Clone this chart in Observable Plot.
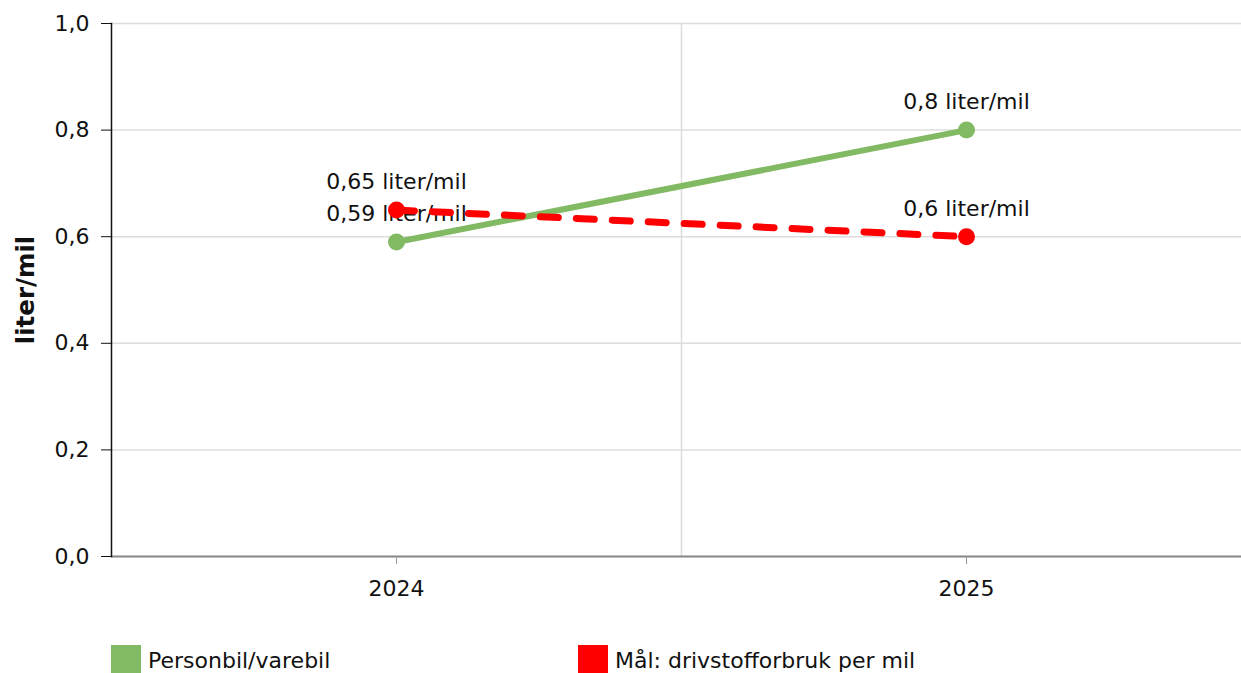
<!DOCTYPE html>
<html>
<head>
<meta charset="utf-8">
<script src="https://cdn.jsdelivr.net/npm/d3@7"></script>
<script src="https://cdn.jsdelivr.net/npm/@observablehq/plot@0.6"></script>
<style>
  body { margin: 0; background: #fff; font-family: "DejaVu Sans", sans-serif; }
  #legend { display: flex; margin-left: 111px; margin-top: 15px; font-size: 22px; color: #111; }
  .item { display: flex; align-items: center; }
  .sw { width: 30px; height: 30px; margin-right: 7px; }
</style>
</head>
<body>
<div id="chart"></div>
<div id="legend"></div>
<script>
const years = [2024, 2025];
const personbil = [0.59, 0.8];
const maal = [0.65, 0.6];
const seriesNames = ["Personbil/varebil", "Mål: drivstofforbruk per mil"];
const seriesColors = ["#82b963", "#ff0000"];
const yTicks = [0, 0.2, 0.4, 0.6, 0.8, 1.0];

const fmt = v => String(v).replace(".", ",");
const green = years.map((y, i) => ({year: y, value: personbil[i]}));
const red = years.map((y, i) => ({year: y, value: maal[i]}));

const chart = Plot.plot({
  width: 1241,
  height: 630,
  marginLeft: 111,
  marginRight: 0,
  marginTop: 23,
  marginBottom: 74,
  style: {fontFamily: "DejaVu Sans", fontSize: "22px", color: "#111", background: "#fff"},
  x: {type: "linear", domain: [years[0] - 0.5, years[1] + 0.5], range: [111, 1251]},
  y: {domain: [0, 1]},
  marks: [
    Plot.gridY(yTicks, {stroke: "#dcdcdc", strokeOpacity: 1, strokeWidth: 1.5}),
    Plot.ruleX([(years[0] + years[1]) / 2], {stroke: "#dcdcdc", strokeWidth: 1.5}),
    Plot.ruleY([0], {stroke: "#888", strokeWidth: 2}),
    Plot.axisX({ticks: years, tickFormat: d => String(d), tickSize: 8, tickPadding: 16, stroke: "#999", fill: "#111", label: null, fontSize: 22}),
    Plot.axisY({ticks: yTicks, tickFormat: d => d.toFixed(1).replace(".", ","), tickSize: 10, tickPadding: 12, fill: "#111", stroke: "#111", label: "liter/mil", labelAnchor: "center", labelArrow: "none", labelOffset: 95, fontSize: 22}),
    Plot.frame({anchor: "left", stroke: "#111", strokeWidth: 1.5}),
    Plot.line(green, {x: "year", y: "value", stroke: seriesColors[0], strokeWidth: 6}),
    Plot.dot(green, {x: "year", y: "value", r: 8.5, fill: seriesColors[0]}),
    Plot.text(green, {x: "year", y: "value", text: d => fmt(d.value) + " liter/mil", dy: -28, fill: "#111", fontSize: 22}),
    Plot.line(red, {x: "year", y: "value", stroke: seriesColors[1], strokeWidth: 7, strokeDasharray: "18,18"}),
    Plot.dot(red, {x: "year", y: "value", r: 8.5, fill: seriesColors[1]}),
    Plot.text(red, {x: "year", y: "value", text: d => fmt(d.value) + " liter/mil", dy: -28, fill: "#111", fontSize: 22})
  ]
});
document.getElementById("chart").appendChild(chart);
d3.select(chart).selectAll('[aria-label="y-axis label"] text').style("font-weight", "bold").style("font-size", "24.5px");

const legend = document.getElementById("legend");
seriesNames.forEach((name, i) => {
  const item = document.createElement("div");
  item.className = "item";
  item.style.width = i === 0 ? "467px" : "auto";
  item.innerHTML = `<div class="sw" style="background:${seriesColors[i]}"></div><span>${name}</span>`;
  legend.appendChild(item);
});
</script>
</body>
</html>
